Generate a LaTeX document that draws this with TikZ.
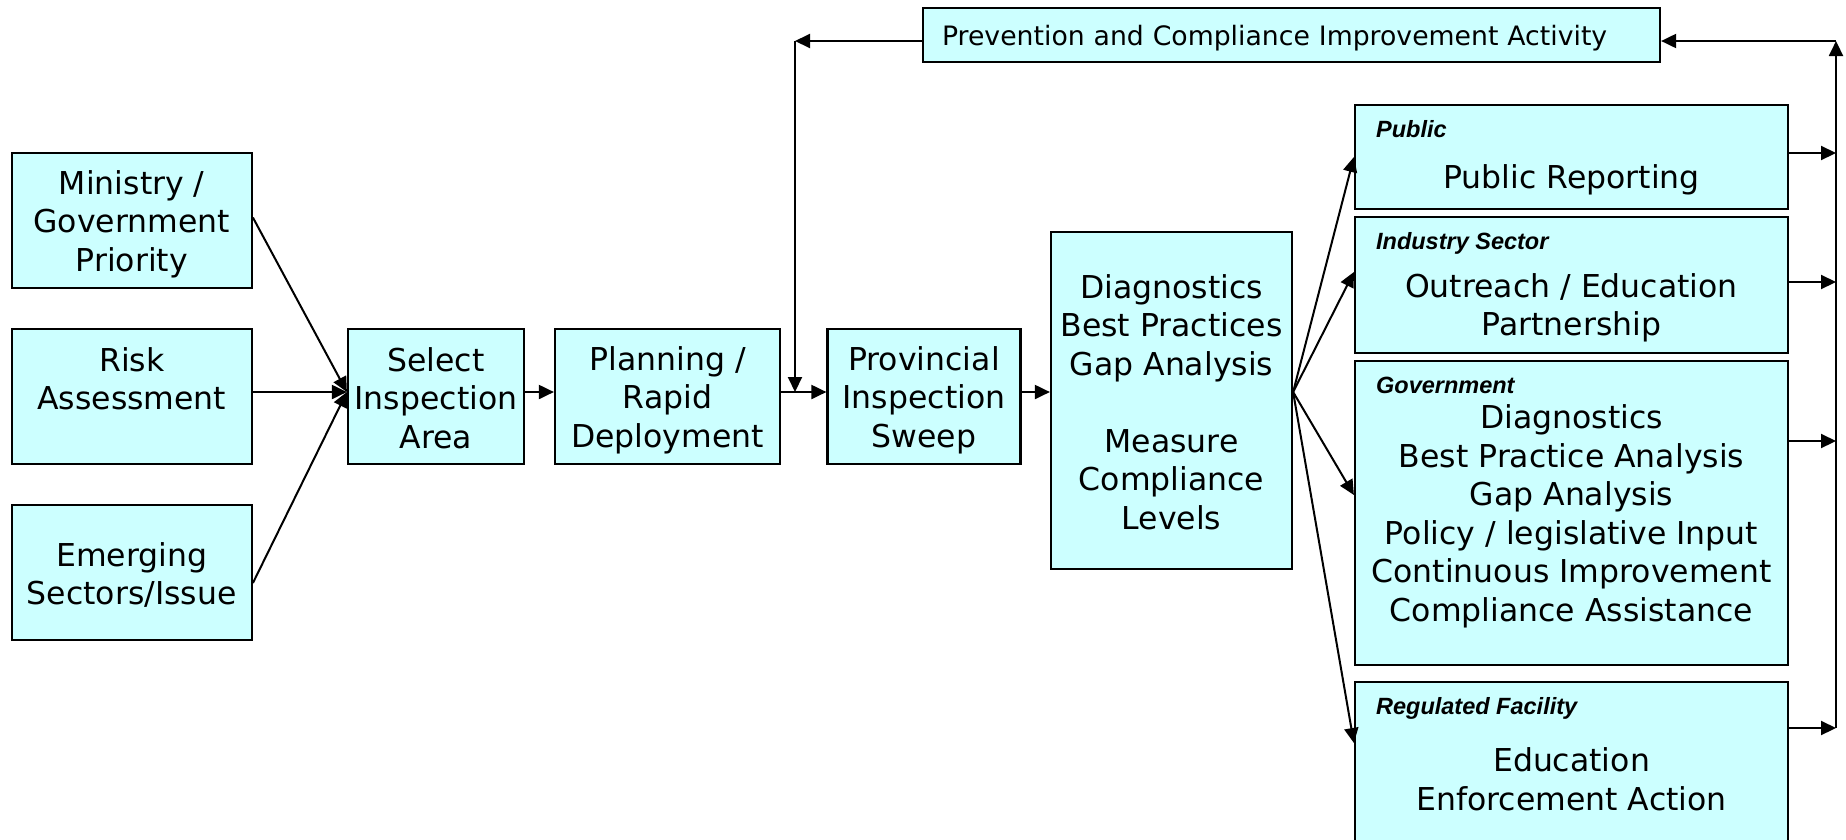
\documentclass[tikz,border=0pt]{standalone}
\usepackage{fontspec}
\setmainfont{DejaVu Sans}
\newfontfamily\tagfont{Liberation Sans}
\usetikzlibrary{arrows.meta}
\definecolor{boxcyan}{HTML}{CCFFFF}

\begin{document}
\begin{tikzpicture}[x=1pt,y=-1pt,
  mainfont/.style={font=\fontsize{31.5}{38.5}\selectfont\setbox\strutbox\hbox{\vrule height31pt depth5pt width0pt}},
  box/.style={draw=black, line width=2.2pt, fill=boxcyan, inner sep=0pt, align=center, mainfont},
  body/.style={inner sep=0pt, align=center, mainfont},
  tag/.style={anchor=base west, inner sep=0pt, font=\tagfont\bfseries\itshape\fontsize{23.5}{26}\selectfont},
  arr/.style={line width=2pt, -{Triangle[length=15pt,width=14pt]}}]

\useasboundingbox (0,0) rectangle (1846,839);

% common height of the main flow
\coordinate (axis) at (0,392);

% sources
\node[box, minimum width=240pt, minimum height=135pt] (min) at (131.8,220.5)
  {\strut Ministry /\\Government\\Priority\strut};
\node[box, minimum width=240pt, minimum height=135pt] (risk) at (131.8,396.5)
  {\strut Risk\\Assessment\\\strut};
\node[box, minimum width=240pt, minimum height=135pt] (em) at (131.8,572.5)
  {\strut Emerging\\Sectors/Issue\strut};

% main chain
\node[box, minimum width=176pt, minimum height=135pt] (sel) at (436,396.5)
  {\strut Select\\Inspection\\Area\strut};
\node[box, minimum width=225pt, minimum height=135pt] (plan) at (667.5,396.5)
  {\strut Planning /\\Rapid\\Deployment\strut};
\node[box, minimum width=193pt, minimum height=135pt] (prov) at (924,396.5)
  {\strut Provincial\\Inspection\\Sweep\strut};
\node[box, minimum width=241pt, minimum height=337pt] (diag) at (1171.5,400.5)
  {\strut Diagnostics\\Best Practices\\Gap Analysis\\\mbox{}\\Measure\\Compliance\\Levels\strut};

% feedback activity
\node[box, font=\fontsize{26.7}{32}\selectfont, text width=699pt, inner xsep=19pt,
  align=left, minimum height=54pt, text height=22pt, text depth=2pt] (prev) at (1291.5,35)
  {Prevention and Compliance Improvement Activity};

% audiences
\node[box, minimum width=433pt, minimum height=104pt] (pubbox) at (1571.5,157) {};
\node[box, minimum width=433pt, minimum height=136pt] (indbox) at (1571.5,285) {};
\node[box, minimum width=433pt, minimum height=304pt] (govbox) at (1571.5,513)
  {\strut Diagnostics\\Best Practice Analysis\\Gap Analysis\\Policy / legislative Input\\Continuous Improvement\\Compliance Assistance\strut};
\node[box, minimum width=433pt, minimum height=192pt] (regbox) at (1571.5,778)
  {\strut Education\\Enforcement Action\strut};

\node[tag] (publab) at ([xshift=22pt,yshift=-33.7pt]pubbox.north west) {Public};
\node[tag] (indlab) at ([xshift=22pt,yshift=-33.7pt]indbox.north west) {Industry Sector};
\node[tag] (govlab) at ([xshift=22pt,yshift=-33.7pt]govbox.north west) {Government};
\node[tag] (reglab) at ([xshift=22pt,yshift=-33.7pt]regbox.north west) {Regulated Facility};

\node[body] (pubtxt) at (1571.5,176.3) {\strut Public Reporting\strut};
\node[body] (indtxt) at (1571.5,304.3) {\strut Outreach / Education\\Partnership\strut};

% inputs into the selection step
\draw[arr] ([yshift=3pt]min.east) -- (sel.west |- axis);
\draw[arr] (risk.east |- axis) -- (sel.west |- axis);
\draw[arr] ([yshift=-10.5pt]em.east) -- (sel.west |- axis);

% main flow
\draw[arr] (sel.east |- axis) -- (plan.west |- axis);
\draw[arr] (plan.east |- axis) -- (prov.west |- axis);
\draw[arr] (prov.east |- axis) -- (diag.west |- axis);

% fan out to the audiences
\coordinate (fan) at (diag.east |- axis);
\draw[arr] (fan) -- (pubbox.west);
\draw[arr] (fan) -- ([yshift=13pt]indbox.west);
\draw[arr] (fan) -- ([yshift=18pt]govbox.west);
\draw[arr] (fan) -- ([yshift=35pt]regbox.west);

% return bus on the right
\coordinate (rtop) at (1836,41);
\coordinate (po) at ([yshift=4pt]pubbox.east);
\coordinate (io) at ([yshift=3pt]indbox.east);
\coordinate (go) at ([yshift=72pt]govbox.east);
\coordinate (ro) at ([yshift=50pt]regbox.east);
\draw[arr] (po) -- (po -| rtop);
\draw[arr] (io) -- (io -| rtop);
\draw[arr] (go) -- (go -| rtop);
\draw[arr] (ro) -- (ro -| rtop);
\draw[arr] (ro -| rtop) -- (rtop);
\draw[arr] (rtop) -- (rtop -| prev.east);

% loop back into the inspection sweep
\coordinate (loop) at (795,41);
\draw[arr] (rtop -| prev.west) -- (loop);
\draw[arr] (loop) -- (loop |- axis);
\end{tikzpicture}
\end{document}
